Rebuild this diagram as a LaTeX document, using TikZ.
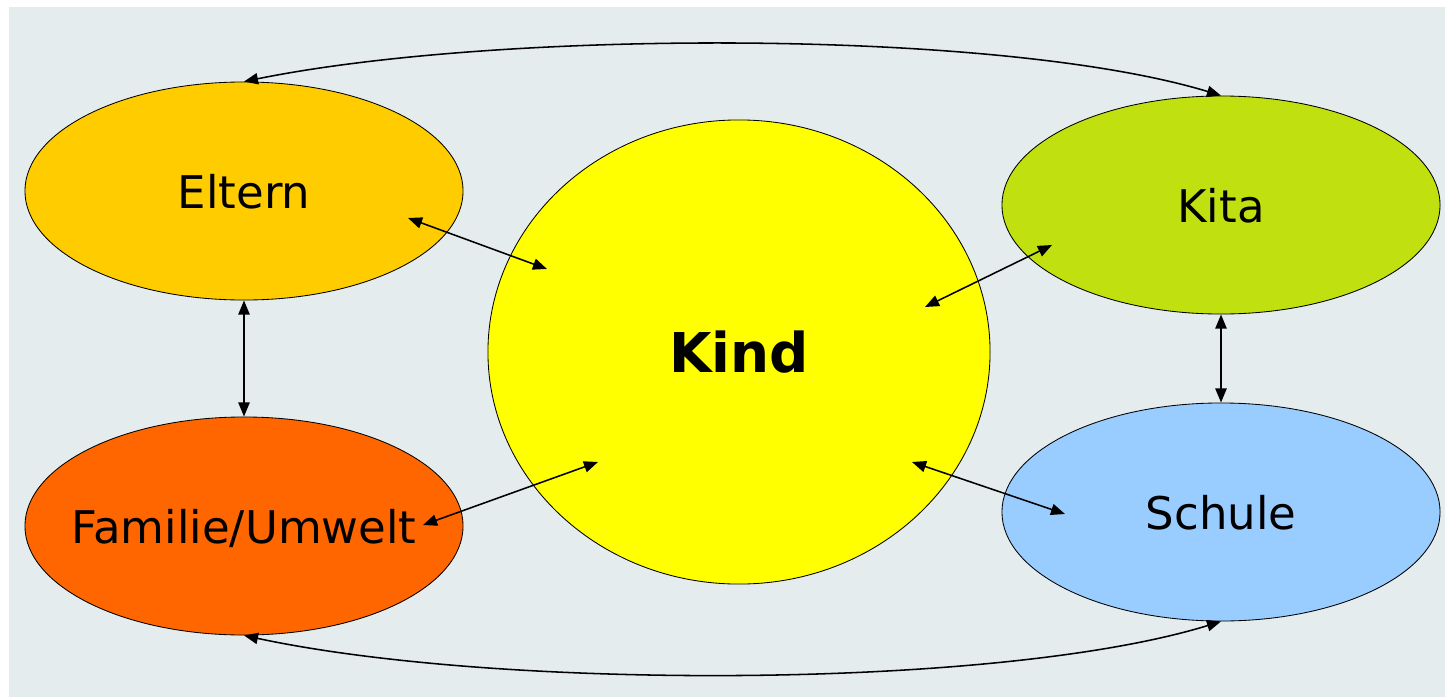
\documentclass[tikz,border=0pt]{standalone}
\usepackage{fontspec}
\setmainfont{DejaVu Sans}
\usetikzlibrary{calc}
\usetikzlibrary{positioning}
\usetikzlibrary{shapes.geometric}
\usetikzlibrary{arrows.meta}
\definecolor{bgGrey}{RGB}{228,236,238}
\definecolor{colEltern}{RGB}{255,204,0}
\definecolor{colKita}{RGB}{192,224,16}
\definecolor{colFamilie}{RGB}{255,102,0}
\definecolor{colSchule}{RGB}{153,204,255}
\definecolor{colKind}{RGB}{255,255,0}
\tikzstyle{partnode} = [draw, ellipse, line width=0.6pt, minimum width=10.95cm, minimum height=5.45cm, inner sep=0, text depth=0pt, align=center, font=\fontsize{32}{38}\selectfont]
\tikzstyle{kindnode} = [draw, ellipse, line width=0.6pt, minimum width=12.55cm, minimum height=11.6cm, inner sep=0, text depth=0pt, align=center, font=\bfseries\fontsize{39}{46}\selectfont]
\tikzstyle{link} = [line width=1.1pt, {Triangle[length=10pt,width=8pt]}-{Triangle[length=10pt,width=8pt]}]

\begin{document}
\begin{tikzpicture}[x=0.025cm, y=-0.025cm]
    \useasboundingbox (0,0) rectangle (1445,697);
    \fill[bgGrey] (9,7) rectangle (1445,697);
    \node[kindnode, fill=colKind] (kind) at (739,352) {Kind};
    \node[partnode, fill=colEltern] (eltern) at ($(kind)+(-495,-161)$) {Eltern};
    \node[partnode, fill=colFamilie] (familie) at ($(eltern)+(0,335)$) {\makebox[0pt]{Familie/Umwelt}};
    \node[partnode, fill=colKita] (kita) at ($(kind)+(482,-147)$) {Kita};
    \node[partnode, fill=colSchule] (schule) at ($(kita)+(0,307)$) {Schule};
    \draw[link] ($(eltern)+(164,27)$) -- ($(kind)+(-192,-83)$);
    \draw[link] ($(kita)+(-169,40)$) -- ($(kind)+(186,-45)$);
    \draw[link] ($(familie)+(179,-1)$) -- ($(kind)+(-141,110)$);
    \draw[link] ($(schule)+(-156,2)$) -- ($(kind)+(173,110)$);
    \draw[link] (eltern.south) -- (familie.north);
    \draw[link] (kita.south) -- (schule.north);
    \draw[link] (eltern.north) .. controls ($(eltern.north)+(256,-52)$) and ($(kita.north)+(-221,-67)$) .. (kita.north);
    \draw[link] (familie.south) .. controls ($(familie.south)+(256,55)$) and ($(schule.south)+(-221,68)$) .. (schule.south);
\end{tikzpicture}
\end{document}
